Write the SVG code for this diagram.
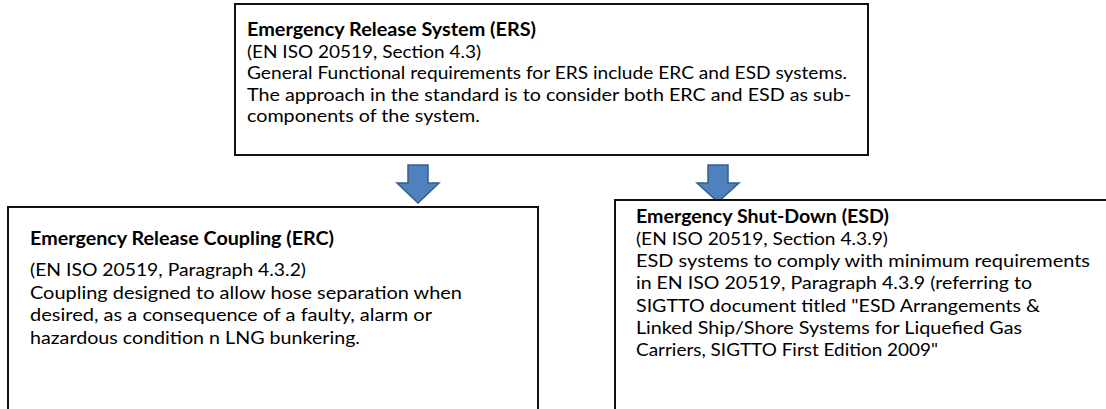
<svg xmlns="http://www.w3.org/2000/svg" width="1106" height="409" viewBox="0 0 1106 409">
<style>
.box{fill:#fff;stroke:#111;stroke-width:2}
.t{font-family:Lato,"Liberation Sans",sans-serif;font-size:18px;fill:#000}
.b{font-weight:bold}
.arr{fill:#4F81BD;stroke:#385D8A;stroke-width:1.5;stroke-linejoin:miter}
</style>
<rect width="1106" height="409" fill="#fff"/>
<g id="connectors">
<polygon class="arr" points="408,165 428,165 428,183 439,183 418,203 397,183 408,183"/>
<polygon class="arr" points="708,165 728,165 728,183 739,183 718,202 697,183 708,183"/>
</g>
<g id="ers">
<rect class="box" x="235" y="4" width="633" height="151"/>
<text class="t b" x="247" y="36" textLength="289" lengthAdjust="spacingAndGlyphs">Emergency Release System (ERS)</text>
<text class="t" x="247" y="57.5" textLength="234" lengthAdjust="spacingAndGlyphs">(EN ISO 20519, Section 4.3)</text>
<text class="t" x="247" y="79" textLength="600" lengthAdjust="spacingAndGlyphs">General Functional requirements for ERS include ERC and ESD systems.</text>
<text class="t" x="247" y="100.5" textLength="604" lengthAdjust="spacingAndGlyphs">The approach in the standard is to consider both ERC and ESD as sub-</text>
<text class="t" x="247" y="122" textLength="233" lengthAdjust="spacingAndGlyphs">components of the system.</text>
</g>
<g id="erc">
<rect class="box" x="8" y="207" width="530" height="215"/>
<text class="t b" x="30" y="245" textLength="304" lengthAdjust="spacingAndGlyphs">Emergency Release Coupling (ERC)</text>
<text class="t" x="30" y="276" textLength="276" lengthAdjust="spacingAndGlyphs">(EN ISO 20519, Paragraph 4.3.2)</text>
<text class="t" x="30" y="298.5" textLength="432" lengthAdjust="spacingAndGlyphs">Coupling designed to allow hose separation when</text>
<text class="t" x="30" y="321" textLength="402" lengthAdjust="spacingAndGlyphs">desired, as a consequence of a faulty, alarm or</text>
<text class="t" x="30" y="343.5" textLength="330" lengthAdjust="spacingAndGlyphs">hazardous condition n LNG bunkering.</text>
</g>
<g id="esd">
<rect class="box" x="615" y="200" width="510" height="230"/>
<text class="t b" x="636" y="223" textLength="253" lengthAdjust="spacingAndGlyphs">Emergency Shut-Down (ESD)</text>
<text class="t" x="636" y="245" textLength="252" lengthAdjust="spacingAndGlyphs">(EN ISO 20519, Section 4.3.9)</text>
<text class="t" x="636" y="267" textLength="454" lengthAdjust="spacingAndGlyphs">ESD systems to comply with minimum requirements</text>
<text class="t" x="636" y="289" textLength="396" lengthAdjust="spacingAndGlyphs">in EN ISO 20519, Paragraph 4.3.9 (referring to</text>
<text class="t" x="636" y="311.5" textLength="404" lengthAdjust="spacingAndGlyphs">SIGTTO document titled "ESD Arrangements &amp;</text>
<text class="t" x="636" y="334" textLength="386" lengthAdjust="spacingAndGlyphs">Linked Ship/Shore Systems for Liquefied Gas</text>
<text class="t" x="636" y="356" textLength="302" lengthAdjust="spacingAndGlyphs">Carriers, SIGTTO First Edition 2009"</text>
</g>
</svg>
